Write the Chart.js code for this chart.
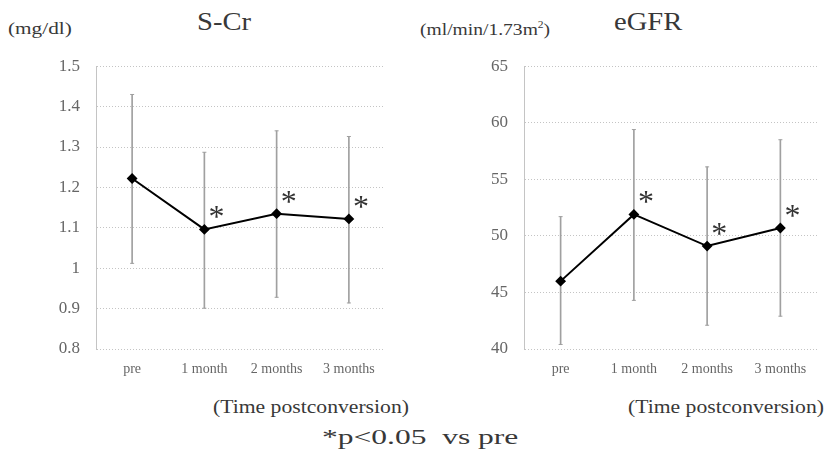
<!DOCTYPE html>
<html>
<head>
<meta charset="utf-8">
<script src="https://cdn.jsdelivr.net/npm/chart.js@4/dist/chart.umd.min.js"></script>
<style>
  body { margin: 0; background: #fff; width: 838px; height: 460px; overflow: hidden; position: relative; }
  .box { position: absolute; }
  .txt { position: absolute; white-space: nowrap; transform-origin: left top; font-family: "Liberation Serif", "Times New Roman", serif; color: #383838; }
</style>
</head>
<body>
<div class="txt" style="left:8px;top:19px;font-size:17px;transform:scaleX(1.25)">(mg/dl)</div>
<div class="txt" style="left:197px;top:7px;font-size:26px;transform:scaleX(1.1)">S-Cr</div>
<div class="txt" style="left:420px;top:19px;font-size:17px;transform:scaleX(1.15)">(ml/min/1.73m<sup style="font-size:10px">2</sup>)</div>
<div class="txt" style="left:614px;top:7px;font-size:26px;transform:scaleX(1.1)">eGFR</div>
<div class="txt" style="left:213px;top:396px;font-size:19px;transform:scaleX(1.14)">(Time postconversion)</div>
<div class="txt" style="left:628px;top:396px;font-size:19px;transform:scaleX(1.14)">(Time postconversion)</div>
<div class="txt" style="left:322px;top:425px;font-size:21px;transform:scaleX(1.5)">*p&lt;0.05&nbsp;&nbsp;vs pre</div>

<div class="box" style="left:0;top:40px;width:410px;height:345px"><canvas id="chartScr"></canvas></div>
<div class="box" style="left:410px;top:40px;width:428px;height:345px"><canvas id="chartGfr"></canvas></div>

<script>
// Data
const timepoints = ["pre", "1 month", "2 months", "3 months"];
const significant = [false, true, true, true];

const scrMean  = [1.222, 1.096, 1.135, 1.122];
const scrUpper = [1.430, 1.287, 1.340, 1.326];
const scrLower = [1.012, 0.901, 0.928, 0.914];
const scrTicks = [0.8, 0.9, 1.0, 1.1, 1.2, 1.3, 1.4, 1.5];

const gfrMean  = [46.0, 51.9, 49.1, 50.7];
const gfrUpper = [51.7, 59.4, 56.1, 58.5];
const gfrLower = [40.4, 44.3, 42.1, 42.9];
const gfrTicks = [40, 45, 50, 55, 60, 65];

const FONT = "'Liberation Serif', serif";
const GREY = "#a0a0a0";

// draws the "*" markers next to significant points
const asteriskPlugin = {
  id: "asterisks",
  afterDatasetsDraw(chart) {
    const meta = chart.getDatasetMeta(0);
    const ctx = chart.ctx;
    ctx.save();
    ctx.fillStyle = "#333";
    ctx.font = "32px " + FONT;
    ctx.textAlign = "center";
    ctx.textBaseline = "alphabetic";
    meta.data.forEach((pt, i) => {
      if (significant[i]) ctx.fillText("*", pt.x + 12, pt.y - 2);
    });
    ctx.restore();
  }
};

function makeChart(id, mean, upper, lower, ticks, yWidth, padRight) {
  const ctx = document.getElementById(id);
  const min = ticks[0], max = ticks[ticks.length - 1];
  const step = ticks[1] - ticks[0];
  return new Chart(ctx, {
    type: "line",
    data: {
      labels: timepoints,
      datasets: [
        {
          type: "line",
          data: mean,
          borderColor: "#000",
          borderWidth: 2,
          pointStyle: "rectRot",
          pointRadius: 4,
          pointBackgroundColor: "#000",
          pointBorderColor: "#000",
          order: 0,
        },
        {
          type: "bar",
          data: lower.map((lo, i) => [lo, upper[i]]),
          backgroundColor: GREY,
          barThickness: 1,
          order: 2,
        },
        {
          type: "line",
          data: upper,
          showLine: false,
          pointStyle: "line",
          pointRadius: 2,
          borderColor: GREY,
          borderWidth: 1,
          order: 1,
        },
        {
          type: "line",
          data: lower,
          showLine: false,
          pointStyle: "line",
          pointRadius: 2,
          borderColor: GREY,
          borderWidth: 1,
          order: 1,
        },
      ],
    },
    options: {
      responsive: true,
      maintainAspectRatio: false,
      animation: false,
      layout: { padding: { top: 17, right: padRight, left: 0, bottom: 0 } },
      plugins: { legend: { display: false }, tooltip: { enabled: false } },
      scales: {
        x: {
          offset: true,
          grid: { display: false, drawTicks: false },
          border: { display: false },
          ticks: { color: "#666", padding: 12, font: { family: FONT, size: 14 } },
          afterFit: s => { s.height = 36; },
        },
        y: {
          min, max,
          grid: { color: "#c4c4c4", lineWidth: 1, drawTicks: false },
          border: { display: true, color: "#c4c4c4", dash: [1, 2] },
          ticks: {
            stepSize: step,
            color: "#666",
            padding: 16,
            font: { family: FONT, size: 17 },
            callback: v => String(+v.toFixed(1)),
          },
          afterFit: s => { s.width = yWidth; },
        },
      },
    },
    plugins: [asteriskPlugin],
  });
}

makeChart("chartScr", scrMean, scrUpper, scrLower, scrTicks, 96, 25);
makeChart("chartGfr", gfrMean, gfrUpper, gfrLower, gfrTicks, 114, 21);
</script>
</body>
</html>
